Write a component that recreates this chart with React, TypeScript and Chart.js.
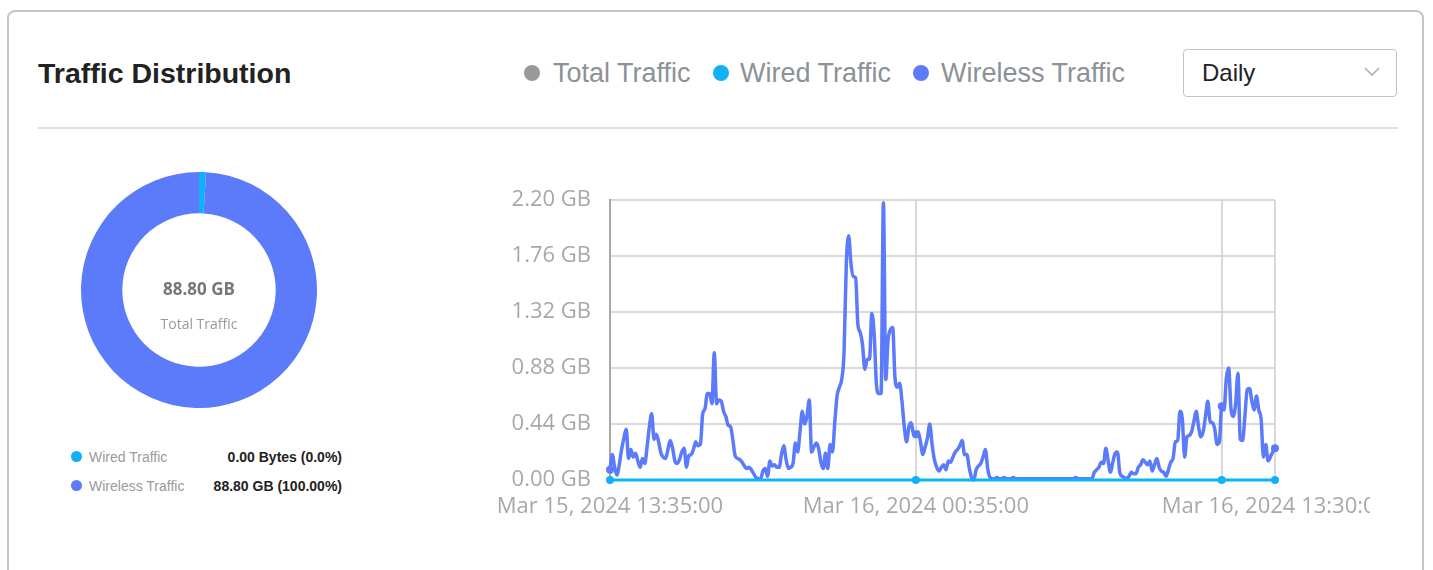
import React, { useEffect, useRef } from 'react';
import { Chart, registerables } from 'chart.js';

Chart.register(...registerables);

// ---------- data ----------
const seriesNames = ['Total Traffic', 'Wired Traffic', 'Wireless Traffic'];
const seriesColors = ['#999999', '#0fb1f7', '#5b7bfa'];

const xTickIndex = [0, 132, 264, 287];
const xTickLabels = ['Mar 15, 2024 13:35:00', 'Mar 16, 2024 00:35:00', '', 'Mar 16, 2024 13:30:00'];
const yTickValues = [0, 0.44, 0.88, 1.32, 1.76, 2.2];

// 5-minute samples, GB
const wirelessGB = [
  0.08, 0.20, 0.10, 0.04, 0.12, 0.24, 0.33, 0.40, 0.17, 0.24,
  0.18, 0.21, 0.15, 0.10, 0.17, 0.13, 0.26, 0.42, 0.52, 0.32,
  0.36, 0.30, 0.21, 0.18, 0.17, 0.24, 0.31, 0.25, 0.15, 0.13,
  0.16, 0.22, 0.25, 0.10, 0.19, 0.20, 0.24, 0.30, 0.27, 0.28,
  0.52, 0.56, 0.68, 0.68, 0.60, 1.00, 0.60, 0.63, 0.62, 0.54,
  0.50, 0.43, 0.42, 0.32, 0.19, 0.17, 0.16, 0.14, 0.11, 0.09,
  0.10, 0.08, 0.05, 0.02, 0.01, 0.01, 0.07, 0.09, 0.03, 0.15,
  0.11, 0.12, 0.10, 0.10, 0.20, 0.27, 0.16, 0.09, 0.10, 0.13,
  0.29, 0.22, 0.38, 0.54, 0.44, 0.50, 0.63, 0.22, 0.26, 0.29,
  0.25, 0.14, 0.09, 0.21, 0.09, 0.28, 0.22, 0.45, 0.66, 0.73,
  0.79, 1.00, 1.71, 1.92, 1.70, 1.60, 1.59, 1.22, 1.16, 1.06,
  0.87, 0.95, 0.95, 1.31, 1.15, 0.75, 0.68, 0.68, 2.18, 0.79,
  1.10, 1.18, 1.20, 0.80, 0.73, 0.76, 0.62, 0.42, 0.30, 0.42,
  0.45, 0.36, 0.36, 0.38, 0.30, 0.20, 0.26, 0.33, 0.44, 0.28,
  0.16, 0.10, 0.07, 0.10, 0.12, 0.08, 0.15, 0.14, 0.18, 0.22,
  0.24, 0.27, 0.31, 0.20, 0.20, 0.10, 0.02, 0.00, 0.08, 0.11,
  0.13, 0.18, 0.24, 0.09, 0.02, 0.01, 0.01, 0.02, 0.01, 0.01,
  0.02, 0.01, 0.01, 0.01, 0.02, 0.01, 0.01, 0.01, 0.01, 0.01,
  0.01, 0.01, 0.01, 0.01, 0.01, 0.01, 0.01, 0.01, 0.01, 0.01,
  0.01, 0.01, 0.01, 0.01, 0.01, 0.01, 0.01, 0.01, 0.01, 0.01,
  0.01, 0.02, 0.01, 0.01, 0.01, 0.01, 0.01, 0.01, 0.01, 0.06,
  0.08, 0.10, 0.14, 0.13, 0.25, 0.15, 0.06, 0.14, 0.21, 0.22,
  0.06, 0.03, 0.02, 0.01, 0.03, 0.06, 0.05, 0.05, 0.10, 0.12,
  0.16, 0.14, 0.12, 0.15, 0.07, 0.12, 0.17, 0.10, 0.07, 0.06,
  0.03, 0.08, 0.14, 0.17, 0.30, 0.31, 0.54, 0.48, 0.18, 0.34,
  0.35, 0.38, 0.46, 0.54, 0.42, 0.34, 0.38, 0.50, 0.62, 0.46,
  0.45, 0.40, 0.28, 0.30, 0.58, 0.55, 0.80, 0.88, 0.56, 0.50,
  0.60, 0.84, 0.32, 0.31, 0.50, 0.71, 0.72, 0.62, 0.55, 0.66,
  0.55, 0.48, 0.18, 0.28, 0.15, 0.18, 0.22, 0.25,
];

const wiredGB = [
  0, 0, 0, 0, 0, 0, 0, 0, 0, 0, 0, 0, 0, 0, 0, 0, 0, 0, 0, 0, 0, 0, 0, 0,
  0, 0, 0, 0, 0, 0, 0, 0, 0, 0, 0, 0, 0, 0, 0, 0, 0, 0, 0, 0, 0, 0, 0, 0,
  0, 0, 0, 0, 0, 0, 0, 0, 0, 0, 0, 0, 0, 0, 0, 0, 0, 0, 0, 0, 0, 0, 0, 0,
  0, 0, 0, 0, 0, 0, 0, 0, 0, 0, 0, 0, 0, 0, 0, 0, 0, 0, 0, 0, 0, 0, 0, 0,
  0, 0, 0, 0, 0, 0, 0, 0, 0, 0, 0, 0, 0, 0, 0, 0, 0, 0, 0, 0, 0, 0, 0, 0,
  0, 0, 0, 0, 0, 0, 0, 0, 0, 0, 0, 0, 0, 0, 0, 0, 0, 0, 0, 0, 0, 0, 0, 0,
  0, 0, 0, 0, 0, 0, 0, 0, 0, 0, 0, 0, 0, 0, 0, 0, 0, 0, 0, 0, 0, 0, 0, 0,
  0, 0, 0, 0, 0, 0, 0, 0, 0, 0, 0, 0, 0, 0, 0, 0, 0, 0, 0, 0, 0, 0, 0, 0,
  0, 0, 0, 0, 0, 0, 0, 0, 0, 0, 0, 0, 0, 0, 0, 0, 0, 0, 0, 0, 0, 0, 0, 0,
  0, 0, 0, 0, 0, 0, 0, 0, 0, 0, 0, 0, 0, 0, 0, 0, 0, 0, 0, 0, 0, 0, 0, 0,
  0, 0, 0, 0, 0, 0, 0, 0, 0, 0, 0, 0, 0, 0, 0, 0, 0, 0, 0, 0, 0, 0, 0, 0,
  0, 0, 0, 0, 0, 0, 0, 0, 0, 0, 0, 0, 0, 0, 0, 0, 0, 0, 0, 0, 0, 0, 0, 0,
];

const donutLabels = ['Wired Traffic', 'Wireless Traffic'];
// arc sizes as displayed (wired drawn with a minimum visible sliver)
const donutArc = [0.85, 88.8];
const donutValueText = ['0.00 Bytes (0.0%)', '88.80 GB (100.00%)'];
const totalText = '88.80 GB';

const pos = (left: number, top: number): React.CSSProperties => ({ position: 'absolute', left, top });

function LineChart() {
  const ref = useRef<HTMLCanvasElement>(null);
  useEffect(() => {
    if (!ref.current) return;
    const radius = (ctx: any) => (xTickIndex.includes(ctx.dataIndex) ? 4 : 0);
    const chart = new Chart(ref.current, {
      type: 'line',
      data: {
        datasets: [
          {
            label: seriesNames[1],
            data: wiredGB.map((v, i) => ({ x: i, y: v })),
            borderColor: seriesColors[1],
            backgroundColor: seriesColors[1],
            borderWidth: 3.2,
            pointRadius: radius,
            pointBorderWidth: 0,
            clip: 8,
          },
          {
            label: seriesNames[2],
            data: wirelessGB.map((v, i) => ({ x: i, y: v })),
            borderColor: seriesColors[2],
            backgroundColor: seriesColors[2],
            borderWidth: 3.5,
            pointRadius: radius,
            pointBorderWidth: 0,
            cubicInterpolationMode: 'monotone',
            borderJoinStyle: 'round',
            clip: 8,
          },
        ],
      },
      options: {
        animation: false,
        responsive: true,
        maintainAspectRatio: false,
        layout: { padding: { top: 0, right: 145, left: 0, bottom: 0 } },
        plugins: { legend: { display: false }, tooltip: { enabled: false } },
        scales: {
          x: {
            type: 'linear',
            min: 0,
            max: 287,
            afterBuildTicks: (scale: any) => {
              scale.ticks = xTickIndex.map((v) => ({ value: v }));
            },
            afterFit: (scale: any) => {
              scale.height = 50;
            },
            grid: { color: '#d9d9d9', lineWidth: 2, drawTicks: false },
            border: { display: false },
            ticks: {
              autoSkip: false,
              maxRotation: 0,
              minRotation: 0,
              padding: 14,
              color: '#a8a8a8',
              font: { family: "'Open Sans', sans-serif", size: 22 },
              callback: (v: any) => {
                const k = xTickIndex.indexOf(Number(v));
                return k >= 0 ? xTickLabels[k] : '';
              },
            },
          },
          y: {
            min: 0,
            max: 2.2,
            afterBuildTicks: (scale: any) => {
              scale.ticks = yTickValues.map((v) => ({ value: v }));
            },
            afterFit: (scale: any) => {
              scale.width = 130;
            },
            grid: { color: '#d9d9d9', lineWidth: 2, drawTicks: false },
            border: { color: '#a9a9a9', width: 2 },
            ticks: {
              padding: 19,
              color: '#a8a8a8',
              font: { family: "'Open Sans', sans-serif", size: 22 },
              callback: (v: any) => Number(v).toFixed(2) + ' GB',
            },
          },
        },
      },
    } as any);
    return () => chart.destroy();
  }, []);
  return (
    <div style={{ ...pos(480, 168), width: 890, height: 362, overflow: 'hidden' }}>
      <div style={{ position: 'relative', width: 940, height: 362 }}>
        <canvas ref={ref} />
      </div>
    </div>
  );
}

function Donut() {
  const ref = useRef<HTMLCanvasElement>(null);
  useEffect(() => {
    if (!ref.current) return;
    const chart = new Chart(ref.current, {
      type: 'doughnut',
      data: {
        labels: donutLabels,
        datasets: [
          {
            data: donutArc,
            backgroundColor: [seriesColors[1], seriesColors[2]],
            borderColor: '#ffffff',
            borderWidth: 0,
          },
        ],
      },
      options: {
        animation: false,
        responsive: true,
        maintainAspectRatio: false,
        cutout: '65%',
        plugins: { legend: { display: false }, tooltip: { enabled: false } },
      },
    } as any);
    return () => chart.destroy();
  }, []);
  return (
    <div style={{ ...pos(81, 172), width: 236, height: 236 }}>
      <canvas ref={ref} />
    </div>
  );
}

export default function App() {
  const legendX = [[532, 553], [721, 740], [921, 941]];
  return (
    <div
      style={{
        position: 'fixed',
        left: 0,
        top: 0,
        width: 1433,
        height: 570,
        overflow: 'hidden',
        background: '#ffffff',
        fontFamily: "'Liberation Sans', Arial, sans-serif",
      }}
    >
      <div
        style={{
          ...pos(7, 10),
          width: 1417,
          height: 620,
          border: '2px solid #c6c6c6',
          borderRadius: 8,
          boxSizing: 'border-box',
        }}
      />
      <div style={{ ...pos(38, 54), fontSize: 28.5, fontWeight: 700, color: '#222', lineHeight: '38px' }}>
        Traffic Distribution
      </div>
      {seriesNames.map((n, i) => (
        <React.Fragment key={n}>
          <div
            style={{
              ...pos(legendX[i][0] - 8, 65),
              width: 16,
              height: 16,
              borderRadius: 8,
              background: seriesColors[i],
            }}
          />
          <div style={{ ...pos(legendX[i][1], 56), fontSize: 27, color: '#8c9198', lineHeight: '34px', whiteSpace: 'nowrap' }}>
            {n}
          </div>
        </React.Fragment>
      ))}
      <div
        style={{
          ...pos(1183, 49),
          width: 214,
          height: 48,
          border: '1.5px solid #c4c4c4',
          borderRadius: 4,
          boxSizing: 'border-box',
        }}
      />
      <div style={{ ...pos(1202, 57), fontSize: 24, color: '#222', lineHeight: '32px' }}>Daily</div>
      <svg style={{ ...pos(1364, 67) }} width="16" height="10">
        <polyline points="1,1 8,8 15,1" fill="none" stroke="#b0b0b0" strokeWidth="1.6" />
      </svg>
      <div style={{ ...pos(38, 127), width: 1360, height: 2, background: '#dedede' }} />

      <Donut />
      <div
        style={{
          ...pos(99, 277),
          width: 200,
          textAlign: 'center',
          fontFamily: "'Open Sans', sans-serif",
          fontWeight: 700,
          fontSize: 17,
          color: '#777',
          lineHeight: '24px',
        }}
      >
        {totalText}
      </div>
      <div
        style={{
          ...pos(99, 314),
          width: 200,
          textAlign: 'center',
          fontFamily: "'Open Sans', sans-serif",
          fontSize: 14,
          color: '#999',
          lineHeight: '20px',
        }}
      >
        {seriesNames[0]}
      </div>

      {donutLabels.map((n, i) => (
        <React.Fragment key={n}>
          <div
            style={{
              ...pos(71, 451 + i * 29),
              width: 11,
              height: 11,
              borderRadius: 6,
              background: seriesColors[i + 1],
            }}
          />
          <div style={{ ...pos(89, 448 + i * 29), fontSize: 14, color: '#9a9a9a', lineHeight: '18px' }}>{n}</div>
          <div
            style={{
              ...pos(142, 448 + i * 29),
              width: 200,
              textAlign: 'right',
              fontSize: 14,
              fontWeight: 700,
              color: '#222',
              lineHeight: '18px',
            }}
          >
            {donutValueText[i]}
          </div>
        </React.Fragment>
      ))}

      <LineChart />
    </div>
  );
}
